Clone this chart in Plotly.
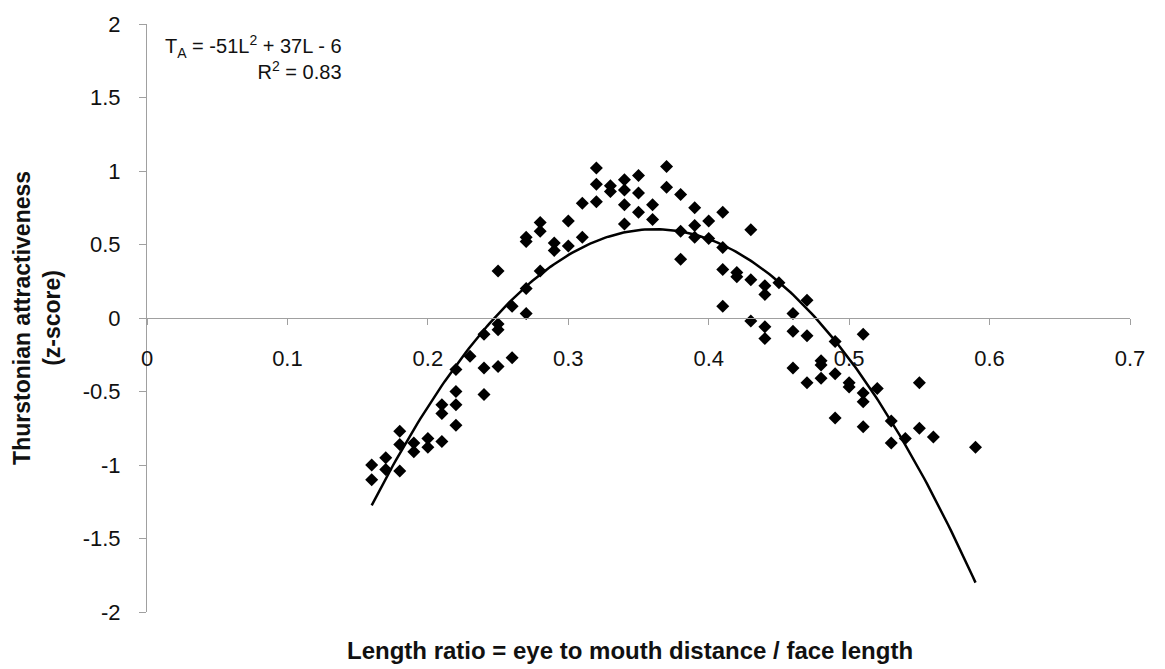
import numpy as np
import plotly.graph_objects as go

# Data (length ratio L, Thurstonian z-score)
length_ratio = [
    0.16, 0.16, 0.17, 0.17, 0.18, 0.18, 0.18, 0.19, 0.19, 0.20, 0.20,
    0.21, 0.21, 0.21, 0.22, 0.22, 0.22, 0.22, 0.23, 0.24, 0.24, 0.24,
    0.25, 0.25, 0.25, 0.25, 0.26, 0.26, 0.27, 0.27, 0.27, 0.27,
    0.28, 0.28, 0.28, 0.29, 0.29, 0.30, 0.30, 0.31, 0.31,
    0.32, 0.32, 0.32, 0.33, 0.33, 0.34, 0.34, 0.34, 0.34,
    0.35, 0.35, 0.35, 0.36, 0.36, 0.37, 0.37, 0.38, 0.38, 0.38,
    0.39, 0.39, 0.39, 0.40, 0.40, 0.41, 0.41, 0.41, 0.41, 0.42, 0.42,
    0.43, 0.43, 0.43, 0.44, 0.44, 0.44, 0.44, 0.45,
    0.46, 0.46, 0.46, 0.47, 0.47, 0.47, 0.48, 0.48, 0.48,
    0.49, 0.49, 0.49, 0.50, 0.50, 0.51, 0.51, 0.51, 0.51, 0.52,
    0.53, 0.53, 0.54, 0.55, 0.55, 0.56, 0.59,
]
attractiveness = [
    -1.00, -1.10, -0.95, -1.03, -0.77, -0.86, -1.04, -0.85, -0.91, -0.82, -0.88,
    -0.59, -0.65, -0.84, -0.35, -0.50, -0.59, -0.73, -0.26, -0.11, -0.34, -0.52,
    0.32, -0.04, -0.08, -0.33, 0.08, -0.27, 0.55, 0.52, 0.20, 0.03,
    0.65, 0.59, 0.32, 0.51, 0.46, 0.66, 0.49, 0.78, 0.55,
    1.02, 0.91, 0.79, 0.90, 0.86, 0.94, 0.87, 0.77, 0.64,
    0.97, 0.85, 0.72, 0.77, 0.67, 1.03, 0.89, 0.84, 0.59, 0.40,
    0.75, 0.63, 0.55, 0.66, 0.54, 0.72, 0.48, 0.33, 0.08, 0.31, 0.28,
    0.60, 0.26, -0.02, 0.22, 0.16, -0.06, -0.14, 0.24,
    0.03, -0.09, -0.34, 0.12, -0.12, -0.44, -0.29, -0.32, -0.41,
    -0.16, -0.38, -0.68, -0.44, -0.47, -0.11, -0.51, -0.57, -0.74, -0.48,
    -0.70, -0.85, -0.82, -0.44, -0.75, -0.81, -0.88,
]

x_tickvals = [0, 0.1, 0.2, 0.3, 0.4, 0.5, 0.6, 0.7]
x_ticktext = ["0", "0.1", "0.2", "0.3", "0.4", "0.5", "0.6", "0.7"]
y_tickvals = [2, 1.5, 1, 0.5, 0, -0.5, -1, -1.5, -2]
y_ticktext = ["2", "1.5", "1", "0.5", "0", "-0.5", "-1", "-1.5", "-2"]

equation_text = "T<sub>A</sub> = -51L<sup>2</sup> + 37L - 6<br>R<sup>2</sup> = 0.83"
x_title = "Length ratio = eye to mouth distance / face length"
y_title = "Thurstonian attractiveness<br>(z-score)"

# Quadratic trendline fitted to the data
coef = np.polyfit(length_ratio, attractiveness, 2)
x_fit = np.linspace(min(length_ratio), max(length_ratio), 200)
y_fit = np.polyval(coef, x_fit)

FONT = "Arial, 'Liberation Sans', sans-serif"
AXIS_COLOR = "#a0a0a0"
TEXT_COLOR = "#111111"

fig = go.Figure()
fig.add_trace(go.Scatter(
    x=length_ratio, y=attractiveness, mode="markers",
    marker=dict(symbol="diamond", size=10, color="black", line=dict(width=0)),
    showlegend=False, hoverinfo="x+y",
))
fig.add_trace(go.Scatter(
    x=x_fit, y=y_fit, mode="lines",
    line=dict(color="black", width=2.5),
    showlegend=False, hoverinfo="skip",
))

fig.update_layout(
    width=1165, height=669,
    margin=dict(l=147, r=35, t=20, b=57),
    paper_bgcolor="white", plot_bgcolor="white",
    font=dict(family=FONT, size=22, color=TEXT_COLOR),
    xaxis=dict(
        range=[0, 0.7], tickmode="array", tickvals=x_tickvals, ticktext=x_ticktext,
        anchor="free", position=0.5,
        showline=True, linecolor=AXIS_COLOR, linewidth=1,
        ticks="outside", ticklen=6, tickcolor=AXIS_COLOR, tickwidth=1,
        ticklabelstandoff=15,
        showgrid=False, zeroline=False,
        tickfont=dict(family=FONT, size=22, color=TEXT_COLOR),
    ),
    yaxis=dict(
        range=[-2, 2], tickmode="array", tickvals=y_tickvals, ticktext=y_ticktext,
        showline=True, linecolor=AXIS_COLOR, linewidth=1,
        ticks="outside", ticklen=7, tickcolor=AXIS_COLOR, tickwidth=1,
        ticklabelstandoff=14,
        showgrid=False, zeroline=False,
        tickfont=dict(family=FONT, size=22, color=TEXT_COLOR),
    ),
    annotations=[
        dict(text=equation_text, xref="paper", yref="paper", x=0.2, y=0.99,
             xanchor="right", yanchor="top", align="right", showarrow=False,
             font=dict(family=FONT, size=20, color=TEXT_COLOR)),
        dict(text="<b>" + x_title + "</b>", xref="paper", yref="paper",
             x=0.491, y=-0.066, xanchor="center", yanchor="middle", showarrow=False,
             font=dict(family=FONT, size=24, color=TEXT_COLOR)),
        dict(text="<b>" + y_title + "</b>", xref="paper", yref="paper",
             x=-0.112, y=0.5, xanchor="center", yanchor="middle", textangle=-90,
             showarrow=False, font=dict(family=FONT, size=23, color=TEXT_COLOR)),
    ],
)

fig.write_html("out.html")
